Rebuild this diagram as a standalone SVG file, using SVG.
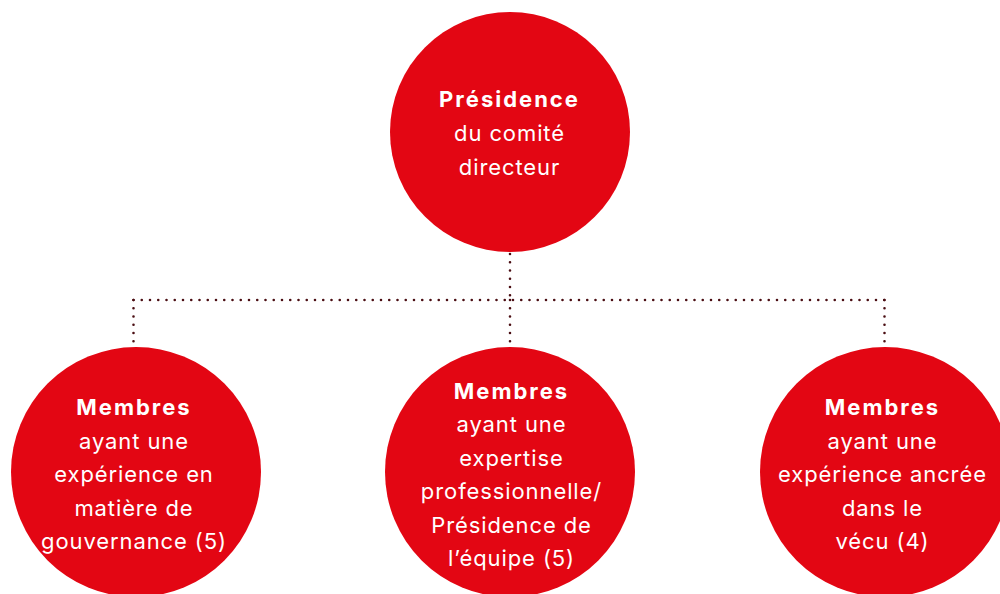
<svg xmlns="http://www.w3.org/2000/svg" width="1000" height="594" viewBox="0 0 1000 594">
  <style>
    .node { fill: #e30613; }
    .label { font-family: Inter, "Liberation Sans", Arial, sans-serif; font-size: 22px; letter-spacing: 0.9px; fill: #ffffff; text-anchor: middle; }
    .label .b { font-weight: 700; letter-spacing: 2px; }
    .link { fill: none; stroke: #4a0d12; stroke-width: 2.6; stroke-linecap: round; stroke-dasharray: 0 8.25; }
  </style>
  <rect width="1000" height="594" fill="#ffffff"/>

  <!-- dotted connectors -->
  <g id="connectors">
    <path class="link" d="M510 254 V300"/>
    <path class="link" d="M133.5 300 H884.5"/>
    <path class="link" d="M133.5 300 V347"/>
    <path class="link" d="M510 300 V347"/>
    <path class="link" d="M884.5 300 V347"/>
  </g>

  <g id="presidence">
    <circle class="node" cx="510" cy="132" r="120"/>
    <text class="label" x="509.5" y="107"><tspan class="b">Présidence</tspan><tspan x="509.5" dy="34">du comité</tspan><tspan x="509.5" dy="34">directeur</tspan></text>
  </g>

  <g id="gouvernance">
    <circle class="node" cx="136" cy="472" r="125"/>
    <text class="label" x="134" y="415"><tspan class="b">Membres</tspan><tspan x="134" dy="33.5">ayant une</tspan><tspan x="134" dy="33.5">expérience en</tspan><tspan x="134" dy="33.5">matière de</tspan><tspan x="134" dy="33.5">gouvernance (5)</tspan></text>
  </g>

  <g id="expertise">
    <circle class="node" cx="510" cy="472" r="125"/>
    <text class="label" x="511.5" y="399"><tspan class="b">Membres</tspan><tspan x="511.5" dy="33.4">ayant une</tspan><tspan x="511.5" dy="33.4">expertise</tspan><tspan x="511.5" dy="33.4">professionnelle/</tspan><tspan x="511.5" dy="33.4">Présidence de</tspan><tspan x="511.5" dy="33.4">l’équipe (5)</tspan></text>
  </g>

  <g id="vecu">
    <circle class="node" cx="885" cy="472" r="125"/>
    <text class="label" x="882.5" y="415"><tspan class="b">Membres</tspan><tspan x="882.5" dy="33.5">ayant une</tspan><tspan x="882.5" dy="33.5">expérience ancrée</tspan><tspan x="882.5" dy="33.5">dans le</tspan><tspan x="882.5" dy="33.5">vécu (4)</tspan></text>
  </g>
</svg>
